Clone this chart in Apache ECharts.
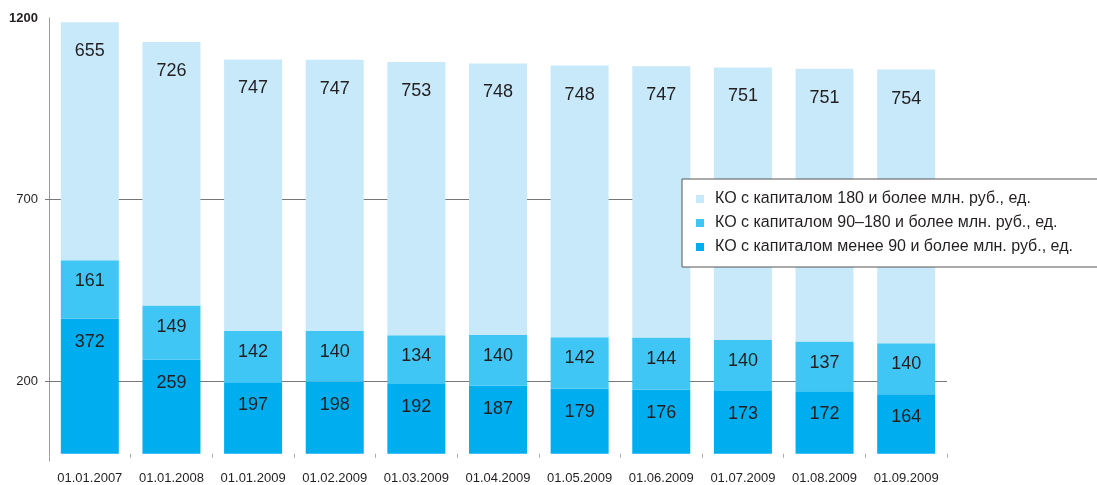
<!DOCTYPE html>
<html>
<head>
<meta charset="utf-8">
<script src="https://cdn.jsdelivr.net/npm/echarts@6/dist/echarts.min.js"></script>
<style>
  html, body { margin: 0; padding: 0; background: #ffffff; }
  #chart { width: 1097px; height: 485px; }
</style>
</head>
<body>
<div id="chart"></div>
<script>
// Dates of the observations
const categories = ['01.01.2007', '01.01.2008', '01.01.2009', '01.02.2009', '01.03.2009',
  '01.04.2009', '01.05.2009', '01.06.2009', '01.07.2009', '01.08.2009', '01.09.2009'];

// Number of credit organisations by capital group
const under90 = [372, 259, 197, 198, 192, 187, 179, 176, 173, 172, 164];
const from90to180 = [161, 149, 142, 140, 134, 140, 142, 144, 140, 137, 140];
const over180 = [655, 726, 747, 747, 753, 748, 748, 747, 751, 751, 754];

// Axis marks
const yLabelValues = [200, 700, 1200];
const yGuideValues = [200, 700];

const seriesNames = [
  'КО с капиталом 180 и более млн. руб., ед.',
  'КО с капиталом 90–180 и более млн. руб., ед.',
  'КО с капиталом менее 90 и более млн. руб., ед.'
];

const FONT = '"Liberation Sans", Arial, Helvetica, sans-serif';
const TEXT = '#231f20';

function barSeries(name, data, color, labelDist) {
  return {
    name: name,
    type: 'bar',
    stack: 'total',
    data: data,
    barWidth: 58,
    z: 3,
    itemStyle: { color: color },
    label: {
      show: true,
      position: 'insideTop',
      distance: labelDist,
      fontFamily: FONT,
      fontSize: 18,
      color: TEXT
    }
  };
}

const chart = echarts.init(document.getElementById('chart'));
chart.setOption({
  animation: false,
  textStyle: { fontFamily: FONT },
  grid: { left: 49, right: 150, top: 18, bottom: 19, containLabel: false },
  legend: {
    orient: 'vertical',
    left: 682,
    top: 179,
    padding: [12, 90, 12, 14],
    backgroundColor: '#ffffff',
    borderColor: '#555555',
    borderWidth: 1,
    itemWidth: 8,
    itemHeight: 8,
    itemGap: 8,
    icon: 'rect',
    data: seriesNames,
    textStyle: {
      fontFamily: FONT, fontSize: 16, color: TEXT,
      padding: [0, 0, 0, 6]
    },
    z: 10
  },
  xAxis: {
    type: 'category',
    data: categories,
    axisLine: { show: false, onZero: true },
    axisTick: { show: true, length: 4, interval: 0, lineStyle: { color: '#aaaaaa' } },
    axisLabel: { interval: 0, fontFamily: FONT, fontSize: 13, color: TEXT, margin: 11 }
  },
  yAxis: {
    type: 'value',
    min: -20,
    max: 1200,
    axisLine: { show: true, lineStyle: { color: '#999999' } },
    axisTick: {
      show: true, length: 4, customValues: yGuideValues,
      lineStyle: { color: '#777777' }
    },
    splitLine: { show: false },
    axisLabel: {
      customValues: yLabelValues,
      fontFamily: FONT,
      fontSize: 13,
      color: TEXT,
      margin: 11,
      formatter: function (v) { return v === 1200 ? '{b|' + v + '}' : String(v); },
      rich: { b: { fontFamily: FONT, fontSize: 13, fontWeight: 'bold', color: TEXT } }
    }
  },
  series: [
    {
      name: 'guides',
      type: 'line',
      data: [],
      z: 1,
      silent: true,
      markLine: {
        silent: true,
        z: 1,
        symbol: ['none', 'none'],
        label: { show: false },
        lineStyle: { color: '#777777', width: 1, type: 'solid' },
        data: yGuideValues.map(v => ({ yAxis: v }))
      }
    },
    barSeries(seriesNames[2], under90, '#00aeef', 14),
    barSeries(seriesNames[1], from90to180, '#40c6f4', 12),
    barSeries(seriesNames[0], over180, '#c7e9f9', 20)
  ]
});
</script>
</body>
</html>
